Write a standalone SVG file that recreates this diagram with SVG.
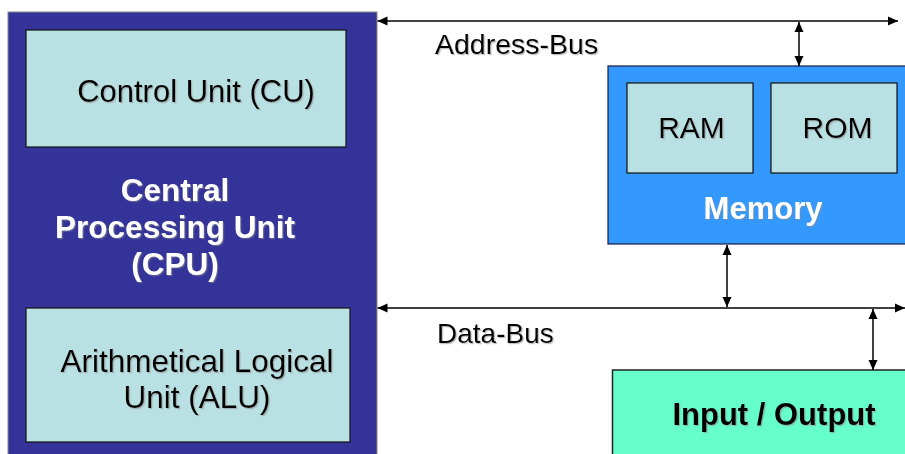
<svg xmlns="http://www.w3.org/2000/svg" width="905" height="454" viewBox="0 0 905 454">
  <style>
    .lbl { font-family: "Liberation Sans", Arial, sans-serif; }
    .dark { fill: #000000; }
    .light { fill: #FFFFFF; font-weight: bold; }
    .inner { fill: #B9E0E2; stroke: #111111; stroke-width: 1.2; }
    .bus { stroke: #000000; stroke-width: 1.5; fill: none; }
    .shadow { filter: url(#shade); }
  </style>
  <defs>
    <filter id="shade" x="-10%" y="-20%" width="120%" height="140%">
      <feDropShadow dx="1.2" dy="1.2" stdDeviation="0.6" flood-color="#888888" flood-opacity="0.55"/>
    </filter>
    <marker id="tip" viewBox="0 0 10 10" refX="10" refY="5" markerWidth="10" markerHeight="10" markerUnits="userSpaceOnUse" orient="auto-start-reverse">
      <path d="M0,0.5 L10,5 L0,9.5 Z" fill="#000000"/>
    </marker>
  </defs>

  <rect width="905" height="454" fill="#FFFFFF"/>

  <!-- CPU with its two units -->
  <g id="cpu">
    <rect x="8" y="12" width="369" height="450" fill="#333399" stroke="#888888" stroke-width="1"/>
    <text class="lbl light shadow" font-size="31.5" text-anchor="middle" x="175" y="201">Central</text>
    <text class="lbl light shadow" font-size="31.5" text-anchor="middle" x="175" y="238">Processing Unit</text>
    <text class="lbl light shadow" font-size="31.5" text-anchor="middle" x="175" y="275">(CPU)</text>
  </g>
  <g id="cu">
    <rect class="inner" x="26" y="30" width="320" height="117"/>
    <text class="lbl dark shadow" font-size="31" text-anchor="middle" x="196" y="102">Control Unit (CU)</text>
  </g>
  <g id="alu">
    <rect class="inner" x="26" y="308" width="324" height="134"/>
    <text class="lbl dark shadow" font-size="31.5" text-anchor="middle" x="197" y="372">Arithmetical Logical</text>
    <text class="lbl dark shadow" font-size="31.5" text-anchor="middle" x="197" y="408">Unit (ALU)</text>
  </g>

  <!-- Memory block -->
  <g id="memory">
    <rect x="608" y="66" width="305" height="178" fill="#3399FF" stroke="#1a1a40" stroke-width="1.2"/>
    <text class="lbl light shadow" font-size="31" text-anchor="middle" x="763" y="219">Memory</text>
  </g>
  <g id="ram">
    <rect class="inner" x="627" y="83" width="126" height="90"/>
    <text class="lbl dark shadow" font-size="30" text-anchor="middle" x="691.5" y="138">RAM</text>
  </g>
  <g id="rom">
    <rect class="inner" x="771" y="83" width="126" height="90"/>
    <text class="lbl dark shadow" font-size="30" text-anchor="middle" x="837.5" y="138">ROM</text>
  </g>

  <!-- Input / Output block -->
  <g id="io">
    <rect x="612.5" y="370" width="300" height="100" fill="#66FFCC" stroke="#222222" stroke-width="1.5"/>
    <text class="lbl dark shadow" font-size="31" font-weight="bold" text-anchor="middle" x="774" y="425">Input / Output</text>
  </g>

  <!-- Buses and links -->
  <g id="connectors">
    <line class="bus" x1="377.5" y1="21" x2="898" y2="21" marker-start="url(#tip)" marker-end="url(#tip)"/>
    <line class="bus" x1="799" y1="22" x2="799" y2="66" marker-start="url(#tip)" marker-end="url(#tip)"/>
    <line class="bus" x1="377.5" y1="308" x2="905" y2="308" marker-start="url(#tip)" marker-end="url(#tip)"/>
    <line class="bus" x1="727" y1="245" x2="727" y2="307" marker-start="url(#tip)" marker-end="url(#tip)"/>
    <line class="bus" x1="873" y1="309" x2="873" y2="370" marker-start="url(#tip)" marker-end="url(#tip)"/>
    <text class="lbl dark shadow" font-size="28.5" x="435" y="54">Address-Bus</text>
    <text class="lbl dark shadow" font-size="28" x="437" y="343">Data-Bus</text>
  </g>
</svg>
